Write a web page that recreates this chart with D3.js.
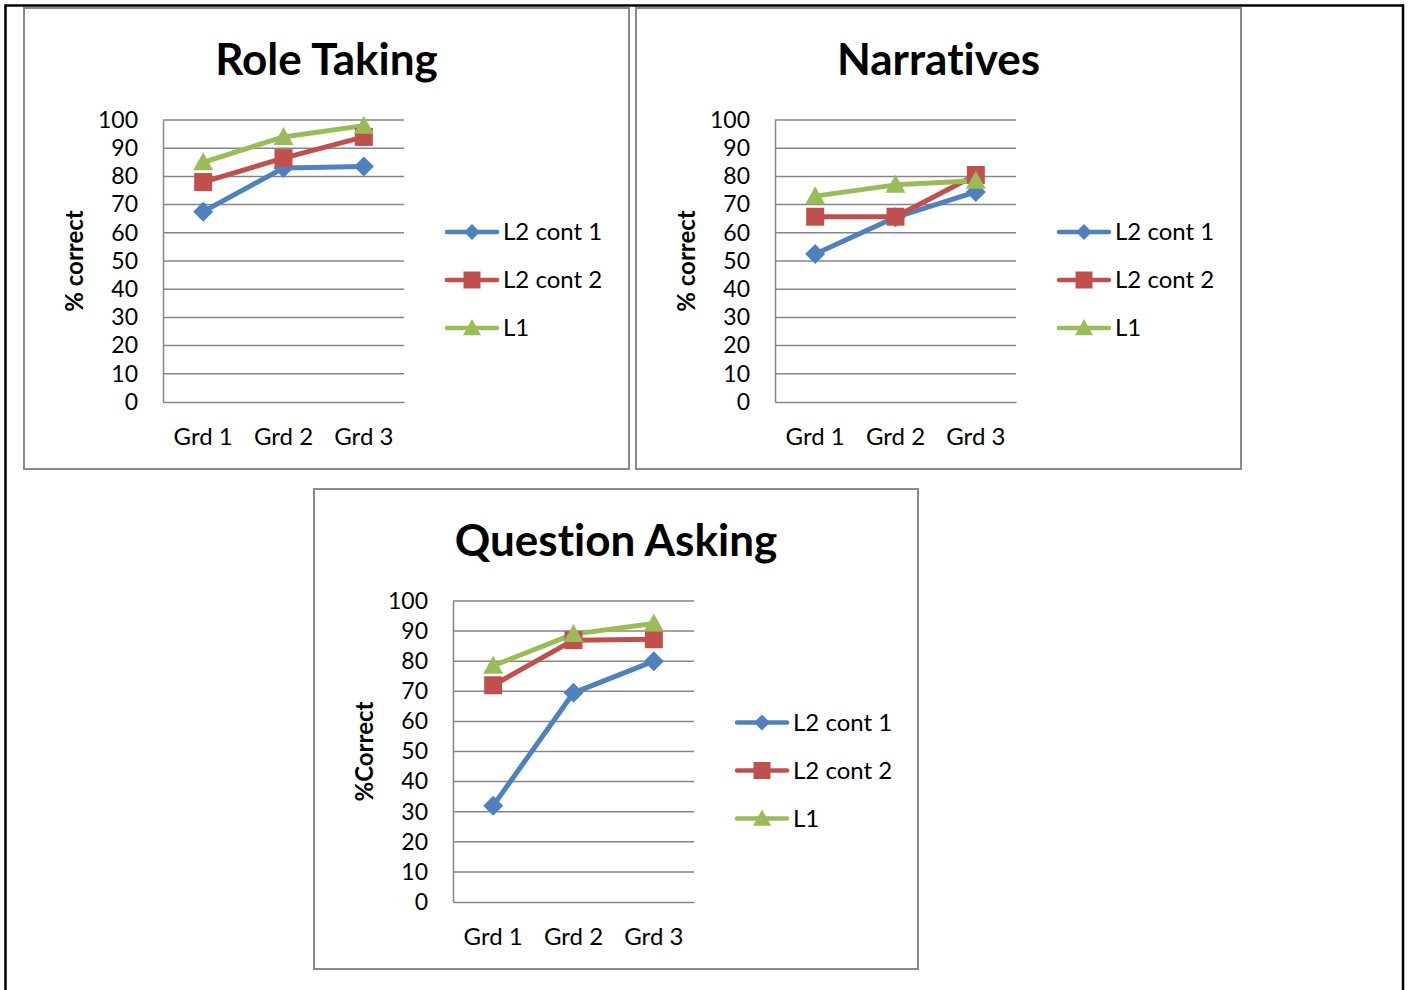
<!DOCTYPE html>
<html>
<head>
<meta charset="utf-8">
<script src="https://cdn.jsdelivr.net/npm/d3@7"></script>
<style>
  html, body { margin: 0; padding: 0; background: #fff; }
  svg { display: block; font-family: Lato, "Open Sans", sans-serif; font-variant-ligatures: none; }
</style>
</head>
<body>
<svg id="chart" width="1408" height="990"></svg>
<script>
// Categories, series and axis ticks shared by the three panels
const grades = ["Grd 1", "Grd 2", "Grd 3"];
const seriesNames = ["L2 cont 1", "L2 cont 2", "L1"];
const yTicks = [0, 10, 20, 30, 40, 50, 60, 70, 80, 90, 100];

// Role Taking (% correct)
const roleL2cont1 = [67.5, 83, 83.5];
const roleL2cont2 = [78, 86.5, 94];
const roleL1 = [85, 94, 98];

// Narratives (% correct)
const narrL2cont1 = [52.5, 65.5, 74.5];
const narrL2cont2 = [65.7, 65.7, 80.5];
const narrL1 = [73, 77, 78.5];

// Question Asking (% correct)
const qaL2cont1 = [32, 69.5, 80];
const qaL2cont2 = [72, 87, 87.3];
const qaL1 = [78.5, 89, 92.5];

const colors = ["#4F81BD", "#C0504D", "#9BBB59"];
const markerKinds = ["diamond", "square", "triangle"];

const svg = d3.select("#chart");

// Outer page border (runs past the bottom edge)
svg.append("rect")
  .attr("x", 5.5).attr("y", 5.5)
  .attr("width", 1397.5).attr("height", 1100)
  .attr("fill", "none").attr("stroke", "#000").attr("stroke-width", 2.5);

function markerPath(kind, s) {
  if (kind === "diamond") return `M0,${-s}L${s},0L0,${s}L${-s},0Z`;
  if (kind === "square") return `M${-s},${-s}H${s}V${s}H${-s}Z`;
  return `M0,${-s}L${s},${s * 0.8}L${-s},${s * 0.8}Z`;
}

function drawPanel(opts) {
  const g = svg.append("g").attr("transform", `translate(${opts.x},${opts.y})`);

  // chart frame
  g.append("rect")
    .attr("x", 0).attr("y", 0)
    .attr("width", opts.w).attr("height", opts.h)
    .attr("fill", "#fff").attr("stroke", "#8a8a8a").attr("stroke-width", 2);

  // title
  g.append("text")
    .attr("x", opts.w / 2).attr("y", 67)
    .attr("text-anchor", "middle")
    .attr("font-size", 44).attr("font-weight", 700)
    .attr("fill", "#000")
    .text(opts.title);

  const left = 139, right = 380, top = 112, bottom = opts.plotBottom;

  const x = d3.scaleBand().domain(grades).range([left, right]);
  const y = d3.scaleLinear().domain([0, 100]).range([bottom, top]);

  // horizontal gridlines
  g.append("g").selectAll("line")
    .data(yTicks.filter(t => t > 0))
    .join("line")
    .attr("x1", left).attr("x2", right)
    .attr("y1", d => y(d)).attr("y2", d => y(d))
    .attr("stroke", "#868686").attr("stroke-width", 1.5);

  // y axis
  const yAxis = g.append("g")
    .attr("transform", `translate(${left},0)`)
    .call(d3.axisLeft(y).tickValues(yTicks).tickSize(0).tickPadding(25));
  yAxis.select(".domain").attr("stroke", "#868686").attr("stroke-width", 1.5);
  yAxis.selectAll("text")
    .attr("font-size", 23).attr("fill", "#000")
    .attr("font-family", "Lato, sans-serif");

  // x axis
  const xAxis = g.append("g")
    .attr("transform", `translate(0,${bottom})`)
    .call(d3.axisBottom(x).tickSize(0).tickPadding(26));
  xAxis.select(".domain").attr("stroke", "#868686").attr("stroke-width", 1.5);
  xAxis.selectAll("text")
    .attr("font-size", 24).attr("fill", "#000")
    .attr("font-family", "Lato, sans-serif");

  // y axis title
  g.append("text")
    .attr("transform", `translate(51,${(top + bottom) / 2}) rotate(-90)`)
    .attr("text-anchor", "middle").attr("dy", "0.35em")
    .attr("font-size", 24).attr("font-weight", 700)
    .text(opts.yTitle);

  const line = d3.line()
    .x((d, i) => x(grades[i]) + x.bandwidth() / 2)
    .y(d => y(d));

  opts.series.forEach((vals, si) => {
    g.append("path")
      .datum(vals)
      .attr("d", line)
      .attr("fill", "none")
      .attr("stroke", colors[si])
      .attr("stroke-width", 5)
      .attr("stroke-linejoin", "round");
  });
  opts.series.forEach((vals, si) => {
    g.append("g").selectAll("path")
      .data(vals)
      .join("path")
      .attr("transform", (d, i) => `translate(${x(grades[i]) + x.bandwidth() / 2},${y(d)})`)
      .attr("d", markerPath(markerKinds[si], si === 0 ? 10 : (si === 1 ? 9 : 10)))
      .attr("fill", colors[si]);
  });

  // legend
  const legendMid = (top + bottom) / 2 + 19;
  const leg = g.append("g");
  seriesNames.forEach((name, si) => {
    const ly = legendMid + (si - 1) * 48;
    leg.append("line")
      .attr("x1", 423).attr("x2", 473)
      .attr("y1", ly).attr("y2", ly)
      .attr("stroke", colors[si]).attr("stroke-width", 4.5)
      .attr("stroke-linecap", "round");
    leg.append("path")
      .attr("transform", `translate(448,${ly})`)
      .attr("d", markerPath(markerKinds[si], si === 0 ? 8 : (si === 1 ? 8.5 : 9)))
      .attr("fill", colors[si]);
    leg.append("text")
      .attr("x", 479).attr("y", ly).attr("dy", "0.35em")
      .attr("font-size", 24).attr("fill", "#000")
      .text(name);
  });
}

drawPanel({
  x: 24, y: 8, w: 605, h: 461, plotBottom: 394,
  title: "Role Taking", yTitle: "% correct",
  series: [roleL2cont1, roleL2cont2, roleL1]
});
drawPanel({
  x: 636, y: 8, w: 605, h: 461, plotBottom: 394,
  title: "Narratives", yTitle: "% correct",
  series: [narrL2cont1, narrL2cont2, narrL1]
});
drawPanel({
  x: 314, y: 489, w: 604, h: 480, plotBottom: 413,
  title: "Question Asking", yTitle: "%Correct",
  series: [qaL2cont1, qaL2cont2, qaL1]
});
</script>
</body>
</html>
